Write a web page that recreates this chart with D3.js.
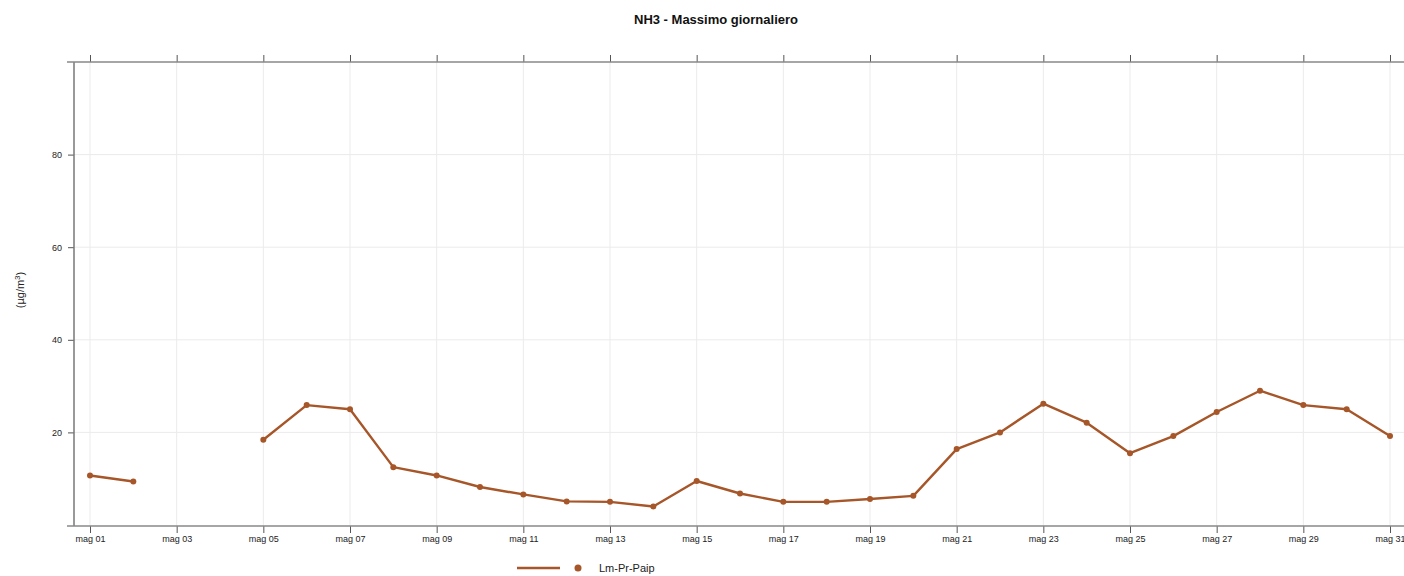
<!DOCTYPE html>
<html>
<head>
<meta charset="utf-8">
<script src="https://cdn.jsdelivr.net/npm/d3@7"></script>
<style>
  body { margin: 0; background: #fff; }
  text { font-family: "Liberation Sans", Arial, sans-serif; }
</style>
</head>
<body>
<script>
var width = 1404;
var height = 576;

// daily max NH3, May (null = no data)
var days = d3.range(1, 32);
var values = [10.7, 9.4, null, null, 18.4, 25.9, 25.0, 12.5, 10.7, 8.2,
  6.6, 5.1, 5.0, 4.0, 9.5, 6.8, 5.0, 5.0, 5.6, 6.3,
  16.4, 20.0, 26.2, 22.1, 15.5, 19.2, 24.4, 29.0, 25.9, 25.0, 19.2];
var yTicks = [20, 40, 60, 80];
var xTicks = d3.range(1, 32, 2);
var seriesName = "Lm-Pr-Paip";
var color = "#a65628";

var plotLeft = 74, plotTop = 62, plotBottom = 526;

var x = d3.scaleLinear().domain([1, 31]).range([90, 1390]);
var y = d3.scaleLinear().domain([0, 100]).range([525, 62]);

var vis = d3.select("body").append("svg")
  .attr("width", width).attr("height", height);

// grid
vis.append("g").selectAll("line").data(xTicks).enter().append("line")
  .attr("x1", d => x(d)).attr("x2", d => x(d))
  .attr("y1", plotTop).attr("y2", plotBottom)
  .style("stroke", "#ebebeb").style("stroke-width", 1);
vis.append("g").selectAll("line").data(yTicks).enter().append("line")
  .attr("x1", plotLeft).attr("x2", width)
  .attr("y1", d => y(d)).attr("y2", d => y(d))
  .style("stroke", "#ebebeb").style("stroke-width", 1);

// axes
var xAxis = d3.axisBottom(x).tickValues(xTicks).tickSize(7).tickPadding(3)
  .tickFormat(d => "mag " + d3.format("02d")(d));
var gx = vis.append("g").attr("transform", "translate(0," + plotBottom + ")").call(xAxis);
var gxTop = vis.append("g").attr("transform", "translate(0," + plotTop + ")")
  .call(d3.axisTop(x).tickValues(xTicks).tickSize(7).tickFormat(""));
var gy = vis.append("g").attr("transform", "translate(" + plotLeft + ",0)")
  .call(d3.axisLeft(y).tickValues(yTicks).tickSize(6).tickPadding(6));

[gx, gxTop, gy].forEach(function (g) {
  g.select(".domain").remove();
  g.selectAll("line").style("stroke", "#555");
  g.selectAll("text").style("font-size", "9px").style("fill", "#222");
});

// frame lines
vis.append("line").attr("x1", plotLeft).attr("x2", plotLeft).attr("y1", plotTop).attr("y2", plotBottom)
  .style("stroke", "#777").style("stroke-width", 1.5);
vis.append("line").attr("x1", 67).attr("x2", width).attr("y1", plotTop).attr("y2", plotTop)
  .style("stroke", "#888").style("stroke-width", 1.5);
vis.append("line").attr("x1", 67).attr("x2", width).attr("y1", plotBottom).attr("y2", plotBottom)
  .style("stroke", "#888").style("stroke-width", 1.5);

// series
var pts = days.map((d, i) => ({ day: d, v: values[i] }));
var line = d3.line().defined(d => d.v != null)
  .x(d => x(d.day)).y(d => y(d.v));

vis.append("path").datum(pts).attr("d", line)
  .style("fill", "none").style("stroke", color).style("stroke-width", 2.4)
  .style("stroke-linejoin", "round");

vis.selectAll("circle.pt").data(pts.filter(d => d.v != null)).enter().append("circle")
  .attr("class", "pt")
  .attr("cx", d => x(d.day)).attr("cy", d => y(d.v)).attr("r", 3)
  .style("fill", color);

// title
vis.append("text").attr("x", 716).attr("y", 24).attr("text-anchor", "middle")
  .style("font-size", "13px").style("font-weight", "bold").style("fill", "#111")
  .text("NH3 - Massimo giornaliero");

// y label
var yl = vis.append("text").attr("transform", "translate(24,290) rotate(-90)")
  .attr("text-anchor", "middle").style("font-size", "11px").style("fill", "#222");
yl.append("tspan").text("(\u00b5g/m");
yl.append("tspan").attr("dy", -4).style("font-size", "8px").text("3");
yl.append("tspan").attr("dy", 4).text(")");

// legend
vis.append("line").attr("x1", 517).attr("x2", 560).attr("y1", 568).attr("y2", 568)
  .style("stroke", color).style("stroke-width", 2.4);
vis.append("circle").attr("cx", 578).attr("cy", 568).attr("r", 3.5).style("fill", color);
vis.append("text").attr("x", 599).attr("y", 572)
  .style("font-size", "11px").style("fill", "#222").text(seriesName);
</script>
</body>
</html>
